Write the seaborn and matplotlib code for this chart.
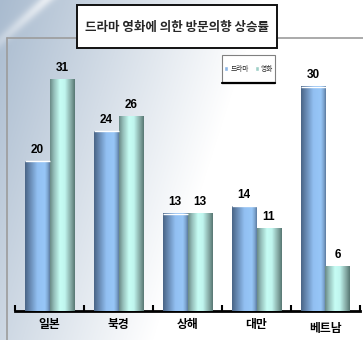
import numpy as np
import pandas as pd
import matplotlib
matplotlib.use("Agg")
import matplotlib.pyplot as plt
import seaborn as sns
from matplotlib.colors import LinearSegmentedColormap, to_rgb
from matplotlib.patches import Rectangle
from matplotlib.transforms import ScaledTranslation

# ---- data ----
regions = ["일본", "북경", "상해", "대만", "베트남"]
series = ["드라마", "영화"]
drama = [20, 24, 13, 14, 30]
movie = [31, 26, 13, 11, 6]
title = "드라마 영화에 의한 방문의향 상승률"

df = pd.DataFrame({
    "region": regions * 2,
    "type": [series[0]] * len(regions) + [series[1]] * len(regions),
    "value": drama + movie,
})

W, H = 363, 340
sns.set_theme(style="white")
plt.rcParams["font.family"] = ["Noto Sans CJK KR", "DejaVu Sans"]
num_font = ["Liberation Sans Narrow", "Liberation Sans", "DejaVu Sans"]

fig = plt.figure(figsize=(W / 100, H / 100), dpi=100)

# ---- background wash (pixel coordinates, y down) ----
bg = fig.add_axes([0, 0, 1, 1], zorder=0)
yy, xx = np.mgrid[0:H, 0:W].astype(float)
d = xx / W + 0.3 * yy / H
t = np.clip(1 - d / 0.72, 0, 1) ** 1.0
streak = np.exp(-((xx + 1.1 * yy - 45) / 8) ** 2) * np.clip(1 - yy / 70, 0, 1)
t = t * (1 - 0.65 * streak)
base = np.array(to_rgb("#a9bbcf"))
img = 1 - t[..., None] * (1 - base)
bg.imshow(img, extent=[0, W, H, 0], interpolation="bilinear")
bg.set_xlim(0, W)
bg.set_ylim(H, 0)
bg.axis("off")

# frame lines
bg.plot([7, W], [38, 38], color="#9c9c9c", lw=1.2)
bg.plot([7, 7], [38, H], color="#9c9c9c", lw=1.2)

# title box
bg.add_patch(Rectangle((77, 5), 200, 43, facecolor="white", edgecolor="#111111", lw=1.4, zorder=3))
bg.text(177, 27, title, ha="center", va="center", fontsize=9, fontweight="heavy", zorder=4)

# legend box
bg.add_patch(Rectangle((222, 55), 53, 28, facecolor="white", edgecolor="#808080", lw=0.8, zorder=3))
bg.plot([222, 275], [83, 83], color="black", lw=1.6, zorder=4)

# ---- chart ----
ax = fig.add_axes([15 / W, (H - 311) / H, 345 / W, 273 / H], zorder=1)
ax.patch.set_alpha(0)

blue_cmap = LinearSegmentedColormap.from_list("drama", [
    (0.0, "#4a6586"), (0.2, "#6789b2"), (0.5, "#92c0f2"),
    (0.8, "#97c6f7"), (0.92, "#7ca4cf"), (1.0, "#5c7ca0")])
teal_cmap = LinearSegmentedColormap.from_list("movie", [
    (0.0, "#6a8a87"), (0.15, "#93bcb7"), (0.4, "#c6fdf4"),
    (0.6, "#c0f5ee"), (0.85, "#84a8a3"), (1.0, "#587874")])
legend_colors = ["#8db6e6", "#9fd0c8"]

sns.barplot(data=df, x="region", y="value", hue="type", order=regions,
            hue_order=series, palette=legend_colors, width=0.72,
            saturation=1, ax=ax, legend=False)

grad = np.linspace(0, 1, 96)[None, :]
for container, cmap, top_line in zip(ax.containers, [blue_cmap, teal_cmap], [True, False]):
    for bar in container:
        x0, w, h = bar.get_x(), bar.get_width(), bar.get_height()
        bar.set_facecolor("none")
        bar.set_edgecolor("none")
        ax.imshow(grad, extent=[x0, x0 + w, 0, h], aspect="auto", cmap=cmap,
                  interpolation="bilinear", zorder=2)
        if top_line:
            ax.plot([x0, x0 + w], [h, h], color="white", lw=1, zorder=3,
                    solid_capstyle="butt")
    ax.bar_label(container, fmt="%d", padding=4, fontsize=8.5,
                 fontweight="bold", family=num_font, color="black")

ax.legend(handles=[Rectangle((0, 0), 1, 1, facecolor=c) for c in legend_colors],
          labels=series, ncol=2, loc="center",
          bbox_to_anchor=((248.5 - 15) / 345, (311 - 69) / 273),
          fontsize=4.8, frameon=False, handlelength=0.6, handleheight=0.9,
          handletextpad=0.3, columnspacing=0.9, borderpad=0)

ax.set_xlim(-0.5, len(regions) - 0.5)
ax.set_ylim(0, 36.5)
ax.set_yticks([])
ax.set_xlabel("")
ax.set_ylabel("")
for s in ("left", "right", "top"):
    ax.spines[s].set_visible(False)
ax.spines["bottom"].set_color("black")
ax.spines["bottom"].set_linewidth(2)
ax.spines["bottom"].set_zorder(1)

ax.set_xticks(range(len(regions)))
ax.set_xticklabels(regions, fontsize=8.5, fontweight="heavy")
ax.set_xticks(np.arange(-0.5, len(regions), 1), minor=True)
ax.tick_params(axis="x", which="major", length=0, pad=5, colors="black")
ax.tick_params(axis="x", which="minor", direction="in", length=4, width=1.5,
               color="black", bottom=True)
last = ax.get_xticklabels()[-1]
last.set_transform(last.get_transform() + ScaledTranslation(0, -4 / 100, fig.dpi_scale_trans))

fig.savefig("out.png", dpi=100)
